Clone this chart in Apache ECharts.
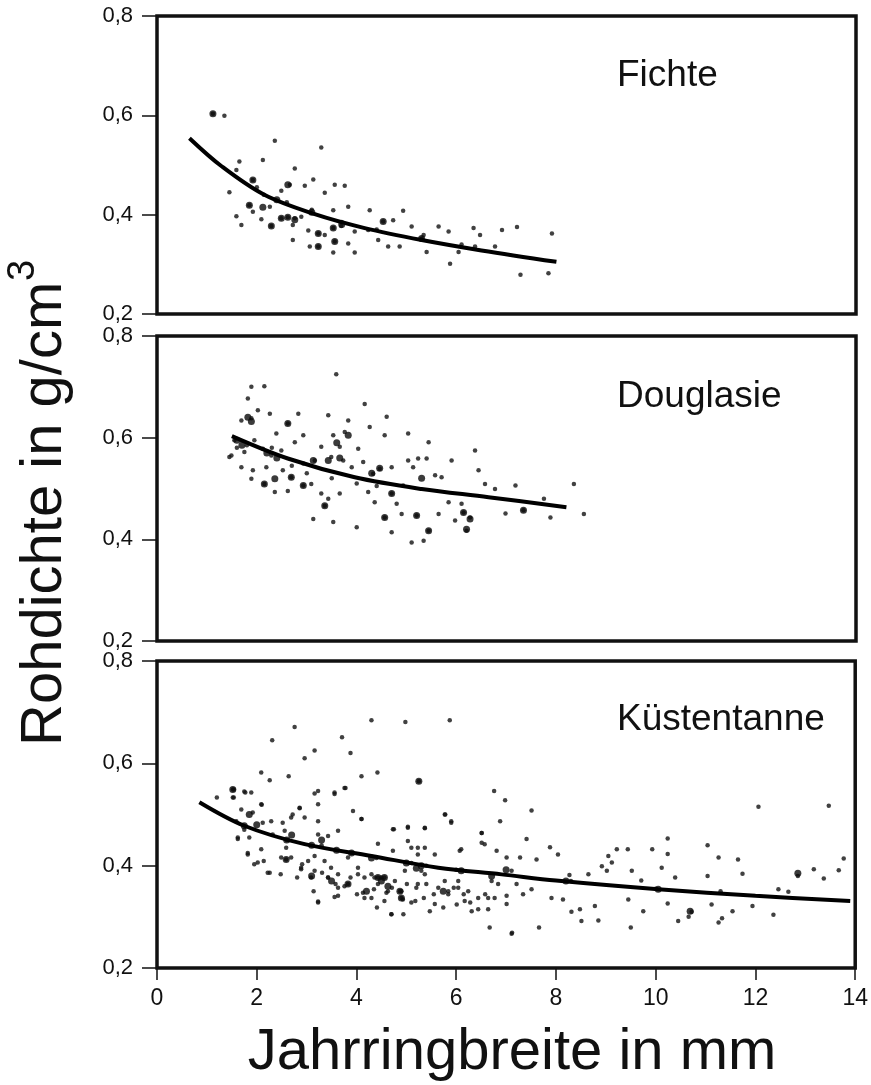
<!DOCTYPE html>
<html>
<head>
<meta charset="utf-8">
<script src="https://cdn.jsdelivr.net/npm/echarts@6/dist/echarts.min.js"></script>
<style>
  html, body { margin: 0; padding: 0; background: #fff; }
  #chart { width: 871px; height: 1085px; }
</style>
</head>
<body>
<div id="chart"></div>
<script>
// Achse: Jahrringbreite (mm) / Rohdichte (g/cm3)
const xTicks = [0, 2, 4, 6, 8, 10, 12, 14];
const yTicks = [0.2, 0.4, 0.6, 0.8];
const panelNames = ["Fichte", "Douglasie", "Küstentanne"];

// Fichte
const fichtePoints = [
  [1.12, 0.603], [1.35, 0.599], [2.36, 0.549], [3.29, 0.535], [1.65, 0.507], [2.12, 0.51],
  [1.59, 0.49], [2.76, 0.493], [1.92, 0.47], [3.13, 0.471], [3.56, 0.46], [3.76, 0.458],
  [2.66, 0.46], [2.96, 0.458], [1.45, 0.445], [2.14, 0.44], [2.49, 0.448], [3.36, 0.444],
  [1.85, 0.419], [2.26, 0.416], [1.59, 0.397], [1.92, 0.406], [2.09, 0.391], [2.49, 0.393],
  [2.62, 0.395], [2.76, 0.393], [2.89, 0.396], [1.69, 0.379], [2.29, 0.377], [2.72, 0.379],
  [3.03, 0.368], [3.23, 0.362], [3.36, 0.359], [3.53, 0.409], [3.83, 0.416], [3.53, 0.373],
  [3.69, 0.377], [3.96, 0.366], [2.72, 0.349], [3.56, 0.346], [3.83, 0.342], [3.06, 0.336],
  [3.23, 0.336], [3.53, 0.324], [3.96, 0.324], [4.26, 0.409], [4.53, 0.386], [4.73, 0.389],
  [4.93, 0.408], [4.43, 0.349], [4.63, 0.336], [4.86, 0.336], [5.10, 0.376], [5.34, 0.359],
  [5.40, 0.325], [5.64, 0.376], [5.84, 0.366], [6.04, 0.325], [5.87, 0.301], [6.34, 0.373],
  [6.47, 0.359], [6.77, 0.336], [6.91, 0.369], [7.21, 0.375], [7.28, 0.279], [7.84, 0.282],
  [7.91, 0.362], [6.37, 0.336], [5.30, 0.352], [4.23, 0.369], [2.0, 0.455], [2.6, 0.425],
  [3.1, 0.41], [3.7, 0.385], [4.4, 0.37], [5.3, 0.35], [6.1, 0.34]
];
// dunkle Punkthaufen
const fichteBlobs = [
  [1.12, 0.603], [2.49, 0.393], [2.62, 0.395], [2.76, 0.39], [2.29, 0.377], [2.12, 0.415],
  [1.85, 0.419], [3.23, 0.362], [3.53, 0.373], [3.23, 0.336], [3.56, 0.346], [1.92, 0.47],
  [2.62, 0.46], [4.53, 0.386], [3.1, 0.405], [3.7, 0.38], [5.3, 0.352], [2.4, 0.43]
];
const fichteCurve = [
  [0.65, 0.554], [1.3, 0.497], [2.15, 0.44], [3.16, 0.401], [4.16, 0.373],
  [5.3, 0.349], [6.5, 0.328], [8.0, 0.305]
];

// Douglasie
const douglasiePoints = [
  [3.59, 0.725], [1.89, 0.70], [2.15, 0.701], [1.82, 0.677], [4.16, 0.666], [1.89, 0.638],
  [2.02, 0.654], [2.26, 0.647], [2.62, 0.628], [2.83, 0.647], [3.43, 0.644], [3.83, 0.634],
  [4.6, 0.641], [1.69, 0.634], [2.39, 0.608], [2.93, 0.605], [3.53, 0.605], [3.76, 0.611],
  [4.26, 0.621], [4.56, 0.605], [5.03, 0.608], [5.44, 0.591], [2.76, 0.591], [3.29, 0.582],
  [4.03, 0.578], [1.49, 0.565], [1.75, 0.572], [2.12, 0.578], [2.49, 0.575], [3.16, 0.555],
  [3.49, 0.562], [3.73, 0.555], [4.13, 0.552], [4.46, 0.539], [4.70, 0.542], [5.13, 0.542],
  [5.40, 0.559], [5.90, 0.555], [6.37, 0.575], [1.69, 0.542], [1.92, 0.536], [2.19, 0.542],
  [2.52, 0.536], [2.69, 0.522], [1.89, 0.519], [2.15, 0.509], [2.36, 0.493], [2.62, 0.495],
  [2.93, 0.506], [3.09, 0.509], [3.29, 0.490], [3.43, 0.480], [3.66, 0.490], [3.36, 0.466],
  [3.13, 0.440], [3.53, 0.434], [4.00, 0.424], [4.23, 0.493], [4.36, 0.473], [4.70, 0.490],
  [4.80, 0.470], [4.93, 0.506], [4.56, 0.443], [4.70, 0.414], [4.90, 0.450], [5.10, 0.394],
  [5.34, 0.397], [5.20, 0.447], [5.44, 0.417], [5.64, 0.450], [5.57, 0.526], [5.84, 0.473],
  [5.97, 0.437], [6.10, 0.470], [6.14, 0.453], [6.20, 0.417], [6.27, 0.443], [6.44, 0.536],
  [6.57, 0.509], [6.77, 0.499], [6.98, 0.451], [7.18, 0.506], [7.34, 0.457], [7.75, 0.480],
  [7.88, 0.443], [8.35, 0.509], [8.55, 0.450], [5.03, 0.555], [5.23, 0.559], [5.70, 0.522],
  [3.90, 0.542], [2.93, 0.549], [2.29, 0.565], [1.55, 0.595], [4.33, 0.529], [3.66, 0.582],
  [1.45, 0.562], [1.95, 0.595], [1.6, 0.58], [1.8, 0.585], [2.3, 0.58], [2.7, 0.545],
  [3.0, 0.53], [3.5, 0.52], [4.0, 0.51], [4.4, 0.505]
];
const douglasieBlobs = [
  [1.82, 0.64], [1.89, 0.632], [2.62, 0.628], [1.6, 0.595], [1.7, 0.585], [2.2, 0.57],
  [2.4, 0.56], [2.15, 0.509], [2.36, 0.519], [2.69, 0.522], [3.13, 0.555], [3.43, 0.555],
  [3.66, 0.56], [3.83, 0.605], [3.36, 0.466], [4.46, 0.54], [4.70, 0.49], [4.56, 0.443],
  [5.20, 0.447], [5.44, 0.417], [6.14, 0.453], [6.20, 0.42], [6.27, 0.44], [7.34, 0.457],
  [2.93, 0.506], [3.6, 0.59], [4.3, 0.53], [5.3, 0.52]
];
const douglasieCurve = [
  [1.5, 0.603], [2.62, 0.559], [3.96, 0.522], [5.3, 0.499], [6.64, 0.483], [8.2, 0.463]
];

// Küstentanne
const kuestenPoints = [
  [2.76, 0.671], [2.31, 0.645], [3.16, 0.625], [2.96, 0.610], [3.71, 0.651], [3.88, 0.620],
  [4.30, 0.684], [4.98, 0.681], [5.87, 0.684], [4.42, 0.582], [4.10, 0.575], [5.25, 0.565],
  [2.64, 0.575], [2.09, 0.582], [2.26, 0.567], [1.20, 0.533], [1.54, 0.549], [1.54, 0.533],
  [1.77, 0.543], [2.10, 0.519], [6.76, 0.546], [6.98, 0.528], [6.88, 0.487], [5.78, 0.500],
  [5.90, 0.484], [3.16, 0.541], [3.56, 0.540], [3.78, 0.552], [3.93, 0.507], [3.23, 0.520],
  [2.86, 0.512], [2.72, 0.500], [2.52, 0.484], [2.12, 0.484], [4.10, 0.491], [4.75, 0.471],
  [5.03, 0.476], [5.37, 0.473], [4.43, 0.443], [6.51, 0.464], [6.67, 0.279], [7.11, 0.267],
  [4.70, 0.305], [3.23, 0.330], [3.56, 0.339], [2.26, 0.386], [2.02, 0.406], [1.82, 0.425],
  [1.62, 0.452], [2.89, 0.393], [2.59, 0.412], [3.16, 0.390], [3.43, 0.377], [3.63, 0.357],
  [3.83, 0.364], [4.03, 0.383], [4.16, 0.337], [4.36, 0.377], [4.50, 0.377], [4.60, 0.347],
  [4.77, 0.370], [4.90, 0.350], [4.93, 0.334], [5.20, 0.357], [5.40, 0.364], [5.57, 0.325],
  [5.77, 0.370], [5.84, 0.350], [6.04, 0.357], [6.17, 0.331], [6.31, 0.311], [6.44, 0.315],
  [6.64, 0.337], [6.84, 0.364], [7.01, 0.325], [7.11, 0.390], [5.30, 0.390], [5.57, 0.422],
  [6.07, 0.429], [5.23, 0.435], [4.73, 0.429], [5.03, 0.448], [6.51, 0.445], [6.81, 0.429],
  [7.51, 0.508], [12.06, 0.515], [13.47, 0.517], [7.41, 0.452], [7.88, 0.436], [8.04, 0.422],
  [7.61, 0.412], [7.28, 0.416], [7.01, 0.416], [9.22, 0.432], [9.44, 0.432], [9.93, 0.432],
  [10.24, 0.453], [10.24, 0.423], [9.05, 0.419], [9.12, 0.406], [8.92, 0.399], [9.02, 0.390],
  [9.52, 0.390], [10.12, 0.396], [10.39, 0.377], [11.04, 0.440], [11.26, 0.416], [11.65, 0.412],
  [11.04, 0.380], [11.74, 0.384], [12.85, 0.380], [13.17, 0.393], [13.37, 0.375], [13.67, 0.391],
  [13.77, 0.414], [12.46, 0.354], [12.66, 0.349], [9.71, 0.371], [8.65, 0.383], [8.27, 0.382],
  [7.21, 0.364], [7.01, 0.341], [7.34, 0.344], [7.51, 0.354], [7.91, 0.337], [8.14, 0.334],
  [8.48, 0.315], [8.31, 0.310], [8.78, 0.321], [8.85, 0.293], [8.51, 0.292], [9.45, 0.334],
  [9.75, 0.311], [10.24, 0.326], [10.45, 0.292], [10.72, 0.310], [10.66, 0.300], [11.12, 0.324],
  [11.26, 0.289], [11.33, 0.297], [11.54, 0.311], [11.94, 0.321], [12.36, 0.304], [9.50, 0.279],
  [7.66, 0.279], [7.12, 0.269],
  [1.52, 0.549], [1.52, 0.533], [1.75, 0.545], [1.89, 0.543], [1.69, 0.510], [1.92, 0.504],
  [1.59, 0.487], [2.09, 0.520], [2.29, 0.487], [2.32, 0.461], [1.62, 0.455], [1.85, 0.455],
  [2.09, 0.432], [1.82, 0.422], [1.95, 0.403], [2.22, 0.386], [2.49, 0.416], [2.59, 0.435],
  [2.69, 0.494], [2.96, 0.494], [2.86, 0.513], [3.23, 0.546], [3.56, 0.543], [3.76, 0.552],
  [4.10, 0.491], [3.23, 0.487], [2.56, 0.468], [3.23, 0.461], [3.43, 0.458], [3.63, 0.468],
  [2.69, 0.416], [2.89, 0.396], [3.03, 0.409], [3.16, 0.419], [3.36, 0.409], [3.49, 0.396],
  [3.09, 0.377], [3.43, 0.377], [3.63, 0.383], [3.76, 0.360], [3.23, 0.328], [3.63, 0.341],
  [3.83, 0.416], [4.03, 0.396], [4.16, 0.377], [4.30, 0.383], [4.43, 0.377], [4.56, 0.377],
  [4.43, 0.364], [4.63, 0.350], [4.13, 0.347], [4.30, 0.337], [4.87, 0.350], [4.90, 0.337],
  [4.56, 0.331], [4.70, 0.305], [5.10, 0.328], [5.23, 0.364], [5.37, 0.383], [4.97, 0.390],
  [5.23, 0.422], [5.10, 0.435], [5.37, 0.435], [4.73, 0.471], [5.03, 0.474], [5.37, 0.474],
  [5.77, 0.500], [5.90, 0.487], [5.64, 0.357], [5.84, 0.344], [5.74, 0.318], [6.04, 0.370],
  [6.10, 0.432], [6.24, 0.350], [6.51, 0.464], [6.57, 0.442], [6.44, 0.337], [6.71, 0.370],
  [6.77, 0.337], [6.64, 0.315],
  [1.75, 0.47], [2.6, 0.45], [3.3, 0.44], [3.9, 0.425], [4.4, 0.415], [5.1, 0.405],
  [5.4, 0.4], [6.0, 0.392], [8.3, 0.37], [10.0, 0.355], [11.3, 0.35],
  [2.91, 0.403], [3.31, 0.386], [3.58, 0.364], [3.88, 0.377], [4.01, 0.344], [4.35, 0.354],
  [4.71, 0.357], [5.01, 0.364], [5.18, 0.331], [5.35, 0.337], [5.55, 0.344], [5.95, 0.357],
  [6.15, 0.344], [6.28, 0.328], [6.58, 0.344], [3.14, 0.350], [2.81, 0.377], [2.14, 0.409],
  [2.48, 0.383], [4.41, 0.318], [4.94, 0.305], [5.47, 0.311], [6.01, 0.324]
];
const kuestenBlobs = [
  [1.52, 0.549], [1.75, 0.478], [1.85, 0.5], [2.0, 0.48], [2.6, 0.45], [2.7, 0.46],
  [3.1, 0.44], [3.3, 0.45], [3.1, 0.38], [2.59, 0.412], [3.6, 0.43], [3.9, 0.425],
  [3.83, 0.364], [4.3, 0.415], [4.43, 0.377], [4.5, 0.37], [4.56, 0.377], [4.63, 0.36],
  [4.87, 0.35], [4.9, 0.337], [5.0, 0.405], [5.2, 0.395], [5.3, 0.4], [5.25, 0.565],
  [5.74, 0.35], [6.1, 0.39], [6.71, 0.38], [7.0, 0.392], [8.2, 0.37], [10.05, 0.354],
  [10.69, 0.311], [12.85, 0.385], [4.2, 0.35], [3.5, 0.37]
];
const kuestenCurve = [
  [0.85, 0.524], [1.75, 0.478], [2.96, 0.442], [4.3, 0.419], [5.64, 0.396],
  [6.91, 0.383], [8.0, 0.371], [10.05, 0.354], [12.0, 0.341], [13.9, 0.331]
];

const pointSets = [fichtePoints, douglasiePoints, kuestenPoints];
const blobSets = [fichteBlobs, douglasieBlobs, kuestenBlobs];
const curveSets = [fichteCurve, douglasieCurve, kuestenCurve];

const FONT = '"Liberation Sans", Arial, sans-serif';
const chart = echarts.init(document.getElementById("chart"), null, { renderer: "canvas" });

// Panel-Layout
const grids = [
  { top: 16, height: 298 },
  { top: 336, height: 305 },
  { top: 661, height: 307 }
];
const titleY = [76, 397, 720];

const option = {
  animation: false,
  backgroundColor: "#fff",
  grid: grids.map(g => ({
    left: 157,
    width: 699,
    top: g.top,
    height: g.height,
    show: true,
    borderColor: "#111",
    borderWidth: 3.5,
    backgroundColor: "transparent"
  })),
  xAxis: grids.map((g, i) => ({
    type: "value",
    gridIndex: i,
    min: xTicks[0],
    max: xTicks[xTicks.length - 1],
    interval: 2,
    show: i === 2,
    splitLine: { show: false },
    axisLine: { show: false },
    axisTick: { show: true, length: 12, lineStyle: { color: "#111", width: 1.5 } },
    axisLabel: { fontSize: 23, fontFamily: FONT, color: "#111", margin: 19 }
  })),
  yAxis: grids.map((g, i) => ({
    type: "value",
    gridIndex: i,
    min: yTicks[0],
    max: yTicks[yTicks.length - 1],
    interval: 0.2,
    splitLine: { show: false },
    axisLine: { show: false },
    axisTick: { show: true, length: 15, lineStyle: { color: "#111", width: 1.5 } },
    axisLabel: {
      fontSize: 22,
      fontFamily: FONT,
      color: "#111",
      margin: 24,
      formatter: v => v.toFixed(1).replace(".", ",")
    }
  })),
  series: [
    ...pointSets.map((pts, i) => ({
      type: "scatter",
      xAxisIndex: i,
      yAxisIndex: i,
      data: pts,
      symbolSize: 4.5,
      itemStyle: { color: "#111" },
      z: 2
    })),
    ...blobSets.map((pts, i) => ({
      type: "scatter",
      xAxisIndex: i,
      yAxisIndex: i,
      data: pts,
      symbolSize: 7,
      itemStyle: { color: "#0a0a0a" },
      z: 2
    })),
    ...curveSets.map((c, i) => ({
      type: "line",
      xAxisIndex: i,
      yAxisIndex: i,
      data: c,
      showSymbol: false,
      smooth: 0.35,
      lineStyle: { color: "#000", width: 4 },
      z: 3
    }))
  ],
  graphic: [
    ...panelNames.map((name, i) => ({
      type: "text",
      x: 617,
      y: titleY[i],
      style: {
        text: name,
        fontSize: 37,
        fontFamily: FONT,
        fill: "#111",
        align: "left",
        verticalAlign: "middle"
      }
    })),
    {
      type: "text",
      x: 45,
      y: 746,
      rotation: Math.PI / 2,
      style: {
        text: "Rohdichte in g/cm",
        fontSize: 58,
        fontFamily: FONT,
        fill: "#111",
        align: "left",
        verticalAlign: "middle"
      }
    },
    {
      type: "text",
      x: 24,
      y: 281,
      rotation: Math.PI / 2,
      style: {
        text: "3",
        fontSize: 38,
        fontFamily: FONT,
        fill: "#111",
        align: "left",
        verticalAlign: "middle"
      }
    },
    {
      type: "text",
      x: 512,
      y: 1053,
      style: {
        text: "Jahrringbreite in mm",
        fontSize: 58,
        fontFamily: FONT,
        fill: "#111",
        align: "center",
        verticalAlign: "middle"
      }
    }
  ]
};

chart.setOption(option);
</script>
</body>
</html>
